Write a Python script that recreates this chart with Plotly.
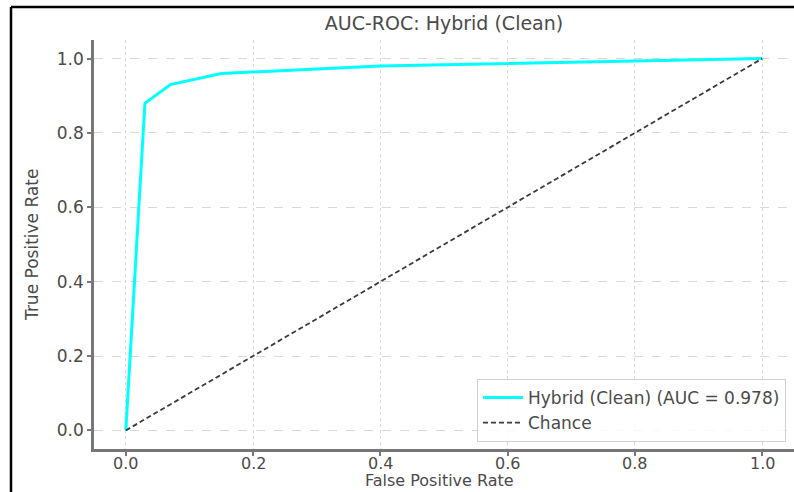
import plotly.graph_objects as go

fpr = [0.0, 0.03, 0.07, 0.15, 0.40, 1.0]
tpr = [0.0, 0.88, 0.93, 0.96, 0.98, 1.0]
chance_x = [0.0, 1.0]
chance_y = [0.0, 1.0]
ticks = [0.0, 0.2, 0.4, 0.6, 0.8, 1.0]
tick_text = ["0.0", "0.2", "0.4", "0.6", "0.8", "1.0"]

W, H = 794, 492
L, R, T, B = 94, 0, 40, 43
pw, ph = W - L - R, H - T - B

font = "DejaVu Sans, sans-serif"
txt = "#4a4a4a"

fig = go.Figure()
fig.add_trace(go.Scatter(x=fpr, y=tpr, mode="lines", name="Hybrid (Clean) (AUC = 0.978)",
                         line=dict(color="#00FFFF", width=3)))
fig.add_trace(go.Scatter(x=chance_x, y=chance_y, mode="lines", name="Chance",
                         line=dict(color="#3a3a3a", width=1.8, dash="5px,3px")))

axis_common = dict(
    showline=True, linecolor="#777777", linewidth=2.5,
    ticks="outside", ticklen=4, tickwidth=1.5, tickcolor="#777777",
    showgrid=True, gridcolor="#d8d8d8", gridwidth=1,
    zeroline=False, mirror=False,
    tickvals=ticks, ticktext=tick_text,
)
fig.update_xaxes(range=[-0.05, 1.05], griddash="dot", showticklabels=False, **axis_common)
fig.update_yaxes(range=[-0.05, 1.05], griddash="dash",
                 tickfont=dict(family=font, size=17, color=txt), **axis_common)

# x tick labels placed at the axis' data positions, close to the axis
label_y = (H - B - 463.5) / ph
for v, t in zip(ticks, tick_text):
    fig.add_annotation(text=t, xref="x", yref="paper", x=v, y=label_y,
                       xanchor="center", yanchor="middle", showarrow=False,
                       font=dict(family=font, size=16, color=txt))

# axis titles
fig.add_annotation(text="False Positive Rate", xref="paper", yref="paper",
                   x=(439 - L) / pw, y=-B / ph, xanchor="center", yanchor="bottom",
                   showarrow=False, font=dict(family=font, size=16, color=txt))
fig.add_annotation(text="True Positive Rate", xref="paper", yref="paper",
                   x=(32 - L) / pw, y=(H - B - 245) / ph, xanchor="center", yanchor="middle",
                   textangle=-90, showarrow=False, font=dict(family=font, size=17, color=txt))

# black frame on left and top
xl = (11 - L) / pw
yt = (H - B - 7) / ph
fig.add_shape(type="line", xref="paper", yref="paper", x0=xl, x1=xl, y0=-1, y1=yt,
              line=dict(color="black", width=2.5))
fig.add_shape(type="line", xref="paper", yref="paper", x0=xl, x1=1.2, y0=yt, y1=yt,
              line=dict(color="black", width=2.5))

fig.update_layout(
    width=W, height=H,
    margin=dict(l=L, r=R, t=T, b=B),
    paper_bgcolor="white", plot_bgcolor="white",
    title=dict(text="AUC-ROC: Hybrid (Clean)", x=444 / W, xanchor="center",
               y=1 - 23 / H, yanchor="middle", font=dict(family=font, size=19, color=txt)),
    legend=dict(x=(786 - L) / pw, xanchor="right", y=(H - B - 442) / ph, yanchor="bottom",
                bgcolor="rgba(255,255,255,0.85)", bordercolor="#d0d0d0", borderwidth=1,
                font=dict(family=font, size=17, color=txt), tracegroupgap=0,
                itemwidth=40),
    showlegend=True,
)

fig.write_html("out.html")
